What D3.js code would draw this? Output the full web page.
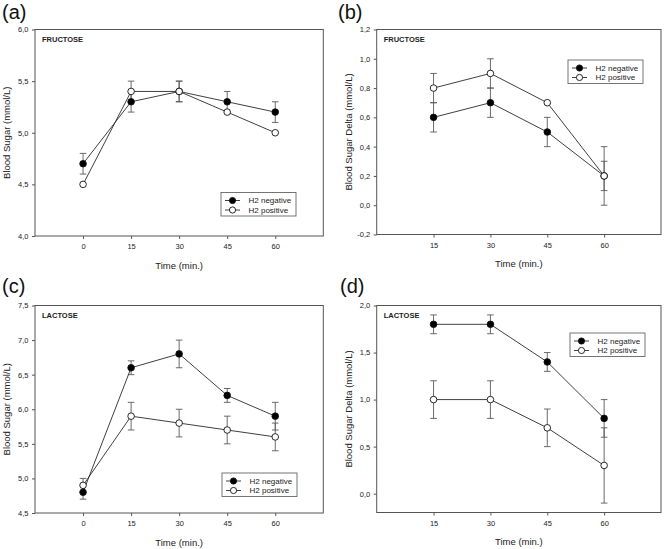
<!DOCTYPE html>
<html>
<head>
<meta charset="utf-8">
<script src="https://cdn.jsdelivr.net/npm/d3@7"></script>
<style>
html,body{margin:0;padding:0;background:#fff;}
svg{display:block;font-family:"Liberation Sans",Arial,sans-serif;}
</style>
</head>
<body>
<svg id="chart" width="667" height="549"></svg>
<script>
// ---- data ----
const timesFull = [0, 15, 30, 45, 60];
const timesDelta = [15, 30, 45, 60];
const seriesNames = ["H2 negative", "H2 positive"];

const fructoseNeg = [4.7, 5.3, 5.4, 5.3, 5.2];
const fructoseNegErr = [0.1, 0.1, 0.1, 0.1, 0.1];
const fructosePos = [4.5, 5.4, 5.4, 5.2, 5.0];
const fructosePosErr = [0, 0.1, 0.1, 0, 0];

const fructoseDeltaNeg = [0.6, 0.7, 0.5, 0.2];
const fructoseDeltaNegErr = [0.1, 0.1, 0.1, 0.1];
const fructoseDeltaPos = [0.8, 0.9, 0.7, 0.2];
const fructoseDeltaPosErr = [0.1, 0.1, 0, 0.2];

const lactoseNeg = [4.8, 6.6, 6.8, 6.2, 5.9];
const lactoseNegErr = [0.1, 0.1, 0.2, 0.1, 0.2];
const lactosePos = [4.9, 5.9, 5.8, 5.7, 5.6];
const lactosePosErr = [0.1, 0.2, 0.2, 0.2, 0.2];

const lactoseDeltaNeg = [1.8, 1.8, 1.4, 0.8];
const lactoseDeltaNegErr = [0.1, 0.1, 0.1, 0.2];
const lactoseDeltaPos = [1.0, 1.0, 0.7, 0.3];
const lactoseDeltaPosErr = [0.2, 0.2, 0.2, 0.4];

const ticksA = [4.0, 4.5, 5.0, 5.5, 6.0];
const ticksB = [-0.2, 0.0, 0.2, 0.4, 0.6, 0.8, 1.0, 1.2];
const ticksC = [4.5, 5.0, 5.5, 6.0, 6.5, 7.0, 7.5];
const ticksD = [0.0, 0.5, 1.0, 1.5, 2.0];

// ---- panels ----
const panels = [
  {tag:"(a)", title:"FRUCTOSE", ylab:"Blood Sugar (mmol/L)", times:timesFull, xdom:[-15,75], ydom:[4.0,6.0], yt:ticksA,
   neg:fructoseNeg, negE:fructoseNegErr, pos:fructosePos, posE:fructosePosErr,
   box:[35,29.5,323.3,236], tagPos:[2,19], ylx:10, leg:[221,192.5]},
  {tag:"(b)", title:"FRUCTOSE", ylab:"Blood Sugar Delta (mmol/L)", times:timesDelta, xdom:[0,75], ydom:[-0.2,1.2], yt:ticksB,
   neg:fructoseDeltaNeg, negE:fructoseDeltaNegErr, pos:fructoseDeltaPos, posE:fructoseDeltaPosErr,
   box:[376.7,29.5,661,234.5], tagPos:[338,19], ylx:351.5, leg:[568,60]},
  {tag:"(c)", title:"LACTOSE", ylab:"Blood Sugar (mmol/L)", times:timesFull, xdom:[-15,75], ydom:[4.5,7.5], yt:ticksC,
   neg:lactoseNeg, negE:lactoseNegErr, pos:lactosePos, posE:lactosePosErr,
   box:[35,305.5,323.3,513], tagPos:[2,293], ylx:10, leg:[222,473]},
  {tag:"(d)", title:"LACTOSE", ylab:"Blood Sugar Delta (mmol/L)", times:timesDelta, xdom:[0,75], ydom:[-0.2,2.0], yt:ticksD,
   neg:lactoseDeltaNeg, negE:lactoseDeltaNegErr, pos:lactoseDeltaPos, posE:lactoseDeltaPosErr,
   box:[376.7,305.5,661,512.5], tagPos:[340,293], ylx:351.5, leg:[570,333]}
];

const svg = d3.select("#chart");
const fmt = v => d3.format(".1f")(v).replace(".", ",").replace("\u2212", "-");
const frameCol = "#555";
const lineCol = "#2a2a2a";
const errCol = "#5a5a5a";

panels.forEach(p => {
  const [x0, y0, x1, y1] = p.box;
  const x = d3.scaleLinear().domain(p.xdom).range([x0, x1]);
  const y = d3.scaleLinear().domain(p.ydom).range([y1, y0]);
  const g = svg.append("g");

  // panel tag
  g.append("text").attr("x", p.tagPos[0]).attr("y", p.tagPos[1])
    .attr("font-size", 20).attr("fill", "#111").text(p.tag);

  // axes
  const ya = g.append("g").attr("transform", `translate(${x0},0)`)
    .call(d3.axisLeft(y).tickValues(p.yt).tickSize(3).tickPadding(3.5).tickFormat(fmt));
  const xa = g.append("g").attr("transform", `translate(0,${y1})`)
    .call(d3.axisBottom(x).tickValues(p.times).tickSize(3).tickPadding(5).tickFormat(d3.format("d")));
  [ya, xa].forEach(a => {
    a.select(".domain").remove();
    a.selectAll("line").attr("stroke", frameCol);
    a.selectAll("text").attr("font-size", 7.5).attr("fill", "#222")
      .attr("font-family", "'Liberation Sans',Arial,sans-serif");
  });

  // frame
  g.append("rect").attr("x", x0).attr("y", y0).attr("width", x1 - x0).attr("height", y1 - y0)
    .attr("fill", "none").attr("stroke", frameCol).attr("stroke-width", 1);

  // title inside
  g.append("text").attr("x", x0 + 7).attr("y", y0 + 12)
    .attr("font-size", 7.5).attr("font-weight", "bold").attr("fill", "#222").text(p.title);

  // axis labels
  g.append("text").attr("transform", `translate(${p.ylx},${(y0 + y1) / 2}) rotate(-90)`)
    .attr("text-anchor", "middle").attr("font-size", 9.5).attr("fill", "#222").text(p.ylab);
  g.append("text").attr("x", (x0 + x1) / 2).attr("y", y1 + 32.5)
    .attr("text-anchor", "middle").attr("font-size", 9.5).attr("fill", "#222").text("Time (min.)");

  const series = [
    {vals:p.neg, errs:p.negE, fill:"#000"},
    {vals:p.pos, errs:p.posE, fill:"#fff"}
  ];

  // error bars
  series.forEach(s => {
    s.vals.forEach((v, i) => {
      const e = s.errs[i];
      if (!e) return;
      const cx = x(p.times[i]);
      const eg = g.append("g").attr("stroke", errCol).attr("stroke-width", 0.9);
      eg.append("line").attr("x1", cx).attr("x2", cx).attr("y1", y(v - e)).attr("y2", y(v + e));
      eg.append("line").attr("x1", cx - 3.3).attr("x2", cx + 3.3).attr("y1", y(v + e)).attr("y2", y(v + e));
      eg.append("line").attr("x1", cx - 3.3).attr("x2", cx + 3.3).attr("y1", y(v - e)).attr("y2", y(v - e));
    });
  });

  // lines
  const line = d3.line().x((d, i) => x(p.times[i])).y(d => y(d));
  series.forEach(s => {
    g.append("path").datum(s.vals).attr("d", line)
      .attr("fill", "none").attr("stroke", lineCol).attr("stroke-width", 0.9);
  });

  // markers
  series.forEach(s => {
    g.selectAll(null).data(s.vals).enter().append("circle")
      .attr("cx", (d, i) => x(p.times[i])).attr("cy", d => y(d)).attr("r", 3.3)
      .attr("fill", s.fill).attr("stroke", "#111").attr("stroke-width", 0.9);
  });

  // legend
  const [lx, ly] = p.leg;
  const lg = g.append("g");
  lg.append("rect").attr("x", lx).attr("y", ly).attr("width", 75).attr("height", 23.5)
    .attr("fill", "#fff").attr("stroke", "#666").attr("stroke-width", 0.9);
  seriesNames.forEach((name, k) => {
    const cy = ly + 8 + k * 9.5;
    lg.append("line").attr("x1", lx + 4).attr("x2", lx + 19).attr("y1", cy).attr("y2", cy)
      .attr("stroke", lineCol).attr("stroke-width", 0.9);
    lg.append("circle").attr("cx", lx + 11.5).attr("cy", cy).attr("r", 3.1)
      .attr("fill", series[k].fill).attr("stroke", "#111").attr("stroke-width", 0.9);
    lg.append("text").attr("x", lx + 27.5).attr("y", cy + 2.9)
      .attr("font-size", 8).attr("fill", "#222").text(name);
  });
});
</script>
</body>
</html>
